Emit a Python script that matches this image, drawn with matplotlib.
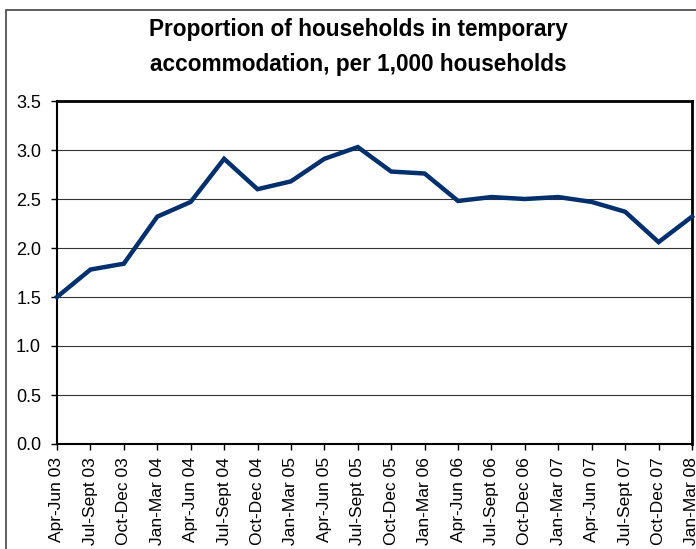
import matplotlib
matplotlib.use("Agg")
from matplotlib import pyplot as plt
from matplotlib.patches import Rectangle

quarters = [
    "Apr-Jun 03", "Jul-Sept 03", "Oct-Dec 03", "Jan-Mar 04",
    "Apr-Jun 04", "Jul-Sept 04", "Oct-Dec 04", "Jan-Mar 05",
    "Apr-Jun 05", "Jul-Sept 05", "Oct-Dec 05", "Jan-Mar 06",
    "Apr-Jun 06", "Jul-Sept 06", "Oct-Dec 06", "Jan-Mar 07",
    "Apr-Jun 07", "Jul-Sept 07", "Oct-Dec 07", "Jan-Mar 08",
]
per_thousand = [
    1.50, 1.78, 1.84, 2.32, 2.47, 2.91, 2.60, 2.68, 2.91, 3.03,
    2.78, 2.76, 2.48, 2.52, 2.50, 2.52, 2.47, 2.37, 2.06, 2.32,
]
y_ticks = [0.0, 0.5, 1.0, 1.5, 2.0, 2.5, 3.0, 3.5]

plt.rcParams['font.family'] = ['Liberation Sans', 'DejaVu Sans']

W, H = 696, 549
fig = plt.figure(figsize=(W / 100, H / 100), dpi=100)

# outer chart border (cut off at right and bottom in the original)
fig.patches.append(Rectangle((6 / W, -0.1), 2.0, 1.1 - 10 / H, transform=fig.transFigure,
                             fill=False, edgecolor='#444444', linewidth=1.2))

ax = fig.add_axes([57 / W, 1 - 444 / H, (692 - 57) / W, (444 - 101) / H])

x = list(range(len(quarters)))
ax.plot(x, per_thousand, color='#00306B', linewidth=3.2, solid_joinstyle='miter', clip_on=False, zorder=3)

ax.set_xlim(0, len(quarters) - 1)
ax.set_ylim(0, 3.5)
ax.set_yticks(y_ticks)
ax.set_yticklabels([f"{v:.1f}" for v in y_ticks], fontsize=13)
ax.set_xticks(x)
ax.set_xticklabels(quarters, rotation=90, fontsize=12.5)

ax.yaxis.grid(True, color='#333333', linewidth=0.8)
ax.set_axisbelow(True)
ax.tick_params(axis='both', direction='out', length=4.5, width=1, color='black')
ax.tick_params(axis='y', pad=7)
ax.tick_params(axis='x', pad=5)

for side in ['top', 'right']:
    ax.spines[side].set_linewidth(2)
for side in ['left', 'bottom']:
    ax.spines[side].set_linewidth(1.5)

fig.text(358 / W, 1 - 47 / H, "Proportion of households in temporary\naccommodation, per 1,000 households",
         ha='center', va='center', fontsize=16.3, fontweight='bold', linespacing=1.7)

fig.savefig("out.png", dpi=100)
